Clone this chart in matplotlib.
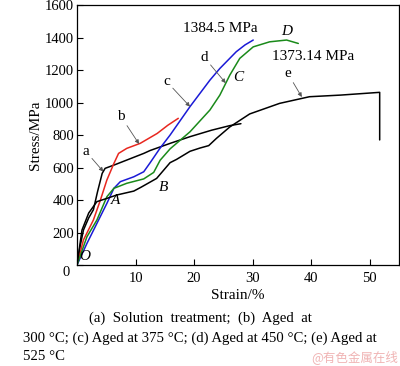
import matplotlib
matplotlib.use("Agg")
import matplotlib.pyplot as plt

plt.rcParams['font.family'] = ['Liberation Serif', 'DejaVu Serif']

# -----------------------------------------------------------------------------
# Data (strain %, stress MPa)
# -----------------------------------------------------------------------------
a_strain = [0, 0.5, 1.1, 2.0, 2.8, 3.5, 4.3, 4.8, 6.3, 8.5, 11.4, 12.5, 16,
            19.3, 23, 26.1, 28]
a_stress = [0, 110, 215, 290, 340, 450, 564, 595, 615, 646, 687, 705, 750,
            790, 830, 858, 870]

b_strain = [0, 1.1, 2.8, 4.0, 5.1, 6.3, 7.1, 8.5, 10.8, 13.7, 15.5, 17.3]
b_stress = [0, 154, 277, 400, 523, 625, 687, 718, 749, 810, 860, 903]

c_strain = [0, 1.7, 3.4, 5.1, 6.3, 7.4, 9.7, 11.4, 12.5, 14.2, 15.9, 19.3,
            22.7, 24.4, 27.2, 28.7, 30.1]
c_stress = [0, 133, 256, 379, 472, 513, 543, 574, 630, 720, 800, 975, 1138,
            1210, 1313, 1355, 1385]

d_strain = [0, 1.7, 3.4, 5.1, 6.3, 8.5, 11.4, 13.1, 14.2, 15.9, 19.3, 22.7,
            24.4, 26.1, 27.8, 30.1, 32.9, 35.8, 37.8]
d_stress = [0, 174, 277, 420, 472, 503, 530, 570, 645, 715, 820, 954, 1046,
            1169, 1272, 1343, 1374, 1385, 1364]

e_strain = [0, 0.85, 2.0, 3.4, 5.1, 6.8, 9.7, 11, 13.6, 15.9, 17, 19.3, 21,
            22.5, 23.8, 26.1, 29.5, 34.6, 39.7, 45, 51.7, 51.7]
e_stress = [0, 215, 320, 390, 410, 431, 455, 480, 533, 630, 650, 700, 720,
            735, 779, 850, 930, 995, 1036, 1046, 1063, 770]

# -----------------------------------------------------------------------------
fig = plt.figure(figsize=(4.0, 3.66), dpi=100)
ax = fig.add_axes([0.1925, 0.276, 0.805, 0.710])

line_kw = dict(lw=1.1, solid_joinstyle='round', solid_capstyle='round')
ax.plot(a_strain, a_stress, color='black', **line_kw)
ax.plot(b_strain, b_stress, color='#e8271f', **line_kw)
ax.plot(c_strain, c_stress, color='#1a1ad6', **line_kw)
ax.plot(d_strain, d_stress, color='#1a8a1a', **line_kw)
ax.plot(e_strain, e_stress, color='black', **line_kw)

ax.set_xlim(0, 55)
ax.set_ylim(0, 1600)
ax.set_xticks([0, 10, 20, 30, 40, 50])
ax.set_xticklabels(['', '10', '20', '30', '40', '50'])
ax.set_yticks(range(0, 1601, 200))
ax.set_yticklabels([''] + [str(v) for v in range(200, 1601, 200)])
ax.tick_params(direction='in', length=4, width=0.8, labelsize=10.5, pad=2)
ax.tick_params(axis='x', pad=5)
for s in ax.spines.values():
    s.set_linewidth(0.9)

ax.text(-1.2, -45, '0', fontsize=10.5, ha='right', va='center')
ax.set_xlabel('Strain/%', fontsize=11, labelpad=3)
ax.set_ylabel('Stress/MPa', fontsize=11, labelpad=2)

arrow = dict(arrowstyle='-|>', color='#555555', lw=0.6, mutation_scale=6,
             shrinkA=0, shrinkB=0)
ax.annotate('a', xy=(4.5, 575), xytext=(1.5, 700), fontsize=11,
            ha='center', va='center', arrowprops=arrow)
ax.annotate('b', xy=(10.6, 745), xytext=(7.5, 915), fontsize=11,
            ha='center', va='center', arrowprops=arrow)
ax.annotate('c', xy=(19.3, 975), xytext=(15.3, 1130), fontsize=11,
            ha='center', va='center', arrowprops=arrow)
ax.annotate('d', xy=(25.4, 1120), xytext=(21.7, 1280), fontsize=11,
            ha='center', va='center', arrowprops=arrow)
ax.annotate('e', xy=(38.4, 1034), xytext=(36, 1180), fontsize=11,
            ha='center', va='center', arrowprops=arrow)

ax.text(24.5, 1455, '1384.5 MPa', fontsize=11, ha='center', va='center')
ax.text(40.3, 1285, '1373.14 MPa', fontsize=11, ha='center', va='center')
for lab, x, y in [('O', 1.4, 50), ('A', 6.5, 400), ('B', 14.7, 475),
                  ('C', 27.5, 1155), ('D', 35.8, 1435)]:
    ax.text(x, y, lab, fontsize=11, style='italic', ha='center', va='center')

fig.text(0.5, 0.131, '(a)  Solution  treatment;  (b)  Aged  at',
         fontsize=10.6, ha='center', va='center')
fig.text(0.057, 0.077, '300 °C; (c) Aged at 375 °C; (d) Aged at 450 °C; (e) Aged at',
         fontsize=10.6, ha='left', va='center')
fig.text(0.057, 0.025, '525 °C', fontsize=10.6, ha='left', va='center')
fig.text(0.995, 0.025, '@有色金属在线', fontsize=9, color='#f0b4b4',
         ha='right', va='center', family=['Noto Sans CJK SC', 'DejaVu Sans'])

fig.savefig('out.png', dpi=100)
